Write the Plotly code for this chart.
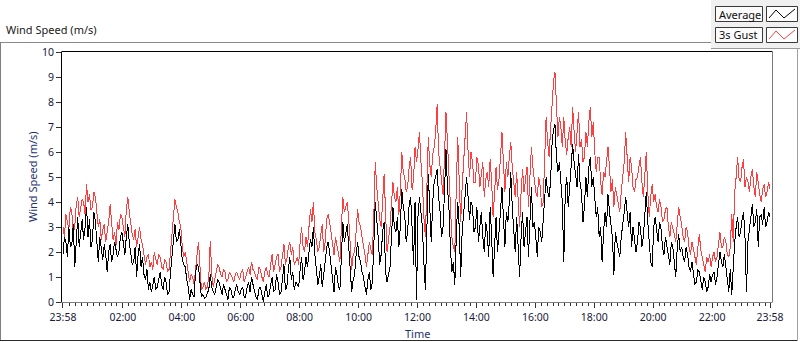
import plotly.graph_objects as go

# ---------------- data ----------------
# sample times in minutes after 23:58 (3-minute spacing over 24 h)
minutes = list(range(0, 1441, 3))

gust = [
    3.0, 2.6, 3.5, 3.2, 2.9, 3.8, 3.6, 2.8, 3.0, 3.9, 4.2, 3.4, 3.7, 4.1, 4.0, 3.5, 4.7, 4.0, 4.3, 3.7,
    3.8, 4.4, 4.2, 3.4, 3.0, 3.3, 2.5, 2.9, 3.1, 2.4, 2.8, 3.2, 3.9, 3.0, 2.5, 2.8, 2.3, 3.2, 2.9, 3.5,
    3.4, 3.0, 2.6, 3.7, 4.2, 3.6, 3.1, 2.7, 2.5, 2.9, 2.2, 2.6, 3.0, 2.5, 2.3, 1.9, 1.5, 1.8, 1.9, 1.4,
    1.6, 1.3, 2.0, 1.7, 1.5, 1.9, 1.8, 1.4, 1.3, 1.7, 1.6, 1.2, 1.3, 2.0, 2.8, 3.6, 4.1, 3.8, 3.6, 3.2,
    3.0, 2.2, 1.8, 2.0, 1.6, 1.2, 0.8, 1.1, 1.0, 0.7, 1.4, 1.9, 2.4, 1.2, 0.5, 0.6, 0.8, 0.5, 0.6, 1.0,
    2.45, 1.1, 0.6, 0.9, 1.2, 1.5, 1.4, 1.1, 1.0, 1.3, 1.2, 0.8, 0.9, 1.2, 1.1, 0.9, 0.8, 1.1, 1.2, 1.0,
    0.9, 1.2, 1.3, 0.8, 1.0, 1.3, 1.4, 1.1, 1.6, 1.3, 1.2, 1.0, 0.9, 1.4, 1.3, 1.0, 0.8, 1.2, 1.4, 1.1,
    1.0, 1.5, 1.9, 1.2, 1.5, 1.8, 1.9, 1.2, 1.4, 1.8, 2.3, 1.5, 1.7, 2.2, 2.4, 1.9, 2.2, 1.5, 1.6, 1.8,
    1.5, 2.4, 3.0, 2.2, 2.0, 2.6, 2.2, 3.0, 3.7, 3.2, 4.0, 2.8, 2.5, 2.0, 2.2, 2.7, 3.1, 2.0, 2.4, 3.3,
    3.5, 3.2, 2.8, 2.3, 1.9, 2.6, 2.2, 1.8, 1.6, 3.0, 4.2, 3.6, 3.8, 4.0, 3.3, 2.2, 1.3, 1.9, 2.0, 2.8,
    3.7, 3.2, 3.0, 2.6, 2.3, 1.9, 1.4, 2.0, 2.4, 2.1, 1.9, 3.4, 5.6, 4.6, 3.9, 3.3, 3.0, 4.2, 5.1, 3.6,
    2.0, 2.5, 3.0, 3.9, 4.8, 4.2, 4.0, 4.6, 3.5, 4.4, 6.0, 5.2, 5.0, 4.4, 4.6, 5.4, 5.8, 4.5, 4.9, 6.2,
    5.6, 6.1, 6.8, 5.6, 4.8, 3.4, 2.6, 4.5, 6.6, 5.5, 5.0, 5.9, 6.2, 6.8, 7.9, 6.0, 5.4, 4.8, 4.3, 5.8,
    7.6, 6.4, 5.2, 3.8, 2.6, 2.2, 2.0, 4.6, 6.6, 4.8, 3.2, 4.6, 5.8, 6.6, 7.6, 6.0, 5.0, 6.0, 5.6, 4.8,
    4.8, 5.8, 5.5, 4.6, 5.0, 5.6, 4.2, 4.9, 5.2, 4.6, 5.7, 4.8, 3.4, 4.4, 5.4, 4.5, 4.9, 5.8, 6.8, 5.6,
    4.4, 5.6, 5.0, 5.8, 6.4, 5.4, 4.8, 4.2, 5.2, 4.0, 3.0, 4.4, 5.3, 4.4, 4.8, 5.4, 3.8, 5.0, 6.2, 5.4,
    4.8, 4.4, 4.2, 5.0, 4.6, 3.8, 4.0, 5.6, 7.4, 6.4, 5.8, 6.9, 8.0, 8.8, 9.2, 7.8, 6.6, 7.4, 7.0, 6.2,
    7.4, 6.4, 5.9, 6.6, 7.0, 6.2, 7.8, 6.8, 6.0, 6.8, 7.6, 6.2, 6.5, 5.6, 5.8, 6.8, 6.2, 7.2, 7.8, 6.6,
    7.2, 6.0, 5.2, 5.8, 5.8, 4.8, 4.3, 5.2, 5.0, 5.6, 6.2, 5.4, 4.4, 4.9, 3.8, 4.6, 4.2, 3.8, 3.6, 4.4,
    5.0, 5.6, 6.8, 5.6, 4.8, 5.8, 5.4, 4.6, 4.4, 4.9, 5.0, 5.4, 5.8, 4.8, 4.2, 5.1, 6.0, 4.4, 3.4, 4.2,
    4.7, 4.0, 4.3, 3.8, 3.6, 4.1, 3.8, 3.2, 3.3, 3.7, 3.8, 3.0, 2.6, 3.2, 3.0, 2.7, 2.4, 3.2, 3.8, 3.4,
    3.1, 2.6, 2.4, 3.0, 2.8, 2.2, 1.9, 2.4, 2.1, 1.7, 1.5, 2.2, 2.7, 2.1, 1.8, 1.5, 1.2, 1.8, 1.6, 1.9,
    1.4, 1.8, 2.0, 1.6, 1.8, 2.3, 2.8, 2.2, 2.2, 2.6, 2.4, 1.9, 1.8, 2.2, 3.5, 2.4, 4.4, 5.0, 5.8, 4.9,
    4.8, 5.4, 5.7, 4.6, 5.0, 4.8, 4.4, 5.0, 5.3, 4.6, 4.2, 5.2, 4.6, 4.3, 4.0, 4.5, 4.7, 4.2, 4.4, 4.8,
    4.5,
]

average = [
    1.9, 2.6, 2.4, 1.8, 3.0, 2.2, 2.3, 3.1, 1.4, 2.7, 3.4, 2.2, 2.9, 3.3, 2.5, 3.0, 3.8, 2.6, 3.3, 2.2,
    2.5, 3.6, 3.2, 2.4, 1.6, 2.6, 2.1, 1.7, 2.3, 1.9, 1.2, 2.0, 2.3, 1.6, 1.9, 2.4, 2.1, 1.8, 2.0, 2.6,
    2.8, 2.2, 1.9, 2.6, 3.1, 2.4, 2.0, 1.5, 1.6, 2.2, 1.0, 1.9, 2.3, 1.4, 1.8, 1.1, 0.9, 1.3, 0.5, 0.8,
    0.4, 0.7, 1.0, 0.5, 0.6, 0.9, 1.2, 0.7, 0.5, 1.0, 0.8, 0.3, 0.4, 1.2, 1.8, 2.6, 3.1, 2.4, 2.5, 2.9,
    2.3, 1.7, 1.5, 1.4, 0.9, 0.6, 0.1, 0.5, 0.3, 0.2, 1.2, 1.5, 1.4, 0.6, 0.2, 0.3, 0.15, 0.2, 0.4, 0.5,
    1.1, 0.6, 0.4, 0.3, 0.6, 0.9, 0.8, 0.5, 0.3, 0.7, 0.5, 0.3, 0.1, 0.6, 0.5, 0.2, 0.2, 0.5, 0.7, 0.4,
    0.3, 0.5, 0.6, 0.2, 0.2, 0.6, 0.8, 0.4, 1.0, 0.7, 0.4, 0.2, 0.1, 0.5, 0.6, 0.3, 0.0, 0.4, 0.7, 0.2,
    0.3, 0.7, 1.0, 0.4, 0.5, 1.1, 0.8, 0.3, 0.4, 0.9, 1.5, 0.5, 0.6, 1.3, 1.8, 0.9, 1.2, 0.5, 0.8, 0.7,
    0.6, 1.3, 1.8, 0.9, 1.2, 1.8, 1.4, 2.0, 2.5, 2.2, 3.0, 1.9, 1.3, 0.7, 1.0, 1.5, 0.6, 1.0, 1.6, 2.2,
    2.4, 2.0, 1.5, 0.9, 0.4, 1.4, 1.1, 0.6, 0.5, 1.8, 3.2, 2.4, 2.8, 3.1, 2.2, 1.0, 0.4, 0.9, 1.1, 1.9,
    2.4, 1.8, 1.6, 1.2, 1.0, 0.6, 0.3, 0.9, 1.2, 0.5, 0.8, 2.2, 4.0, 3.3, 2.6, 1.5, 1.9, 2.8, 3.2, 1.2,
    0.8, 1.1, 1.4, 2.6, 3.8, 3.0, 2.8, 3.4, 2.2, 3.0, 4.5, 3.8, 3.5, 2.4, 2.8, 3.9, 4.2, 3.0, 1.5, 4.0,
    0.1, 3.4, 4.2, 3.6, 3.0, 1.6, 0.5, 2.8, 5.1, 3.8, 2.4, 4.0, 4.8, 5.0, 5.3, 4.2, 3.6, 2.6, 3.0, 4.4,
    6.1, 4.6, 3.8, 2.2, 1.2, 1.6, 0.7, 2.6, 4.0, 3.0, 1.0, 2.8, 3.6, 4.4, 5.0, 4.2, 3.3, 4.0, 3.8, 2.8,
    3.0, 3.8, 2.4, 3.0, 3.6, 2.6, 2.0, 3.2, 2.8, 1.8, 3.8, 2.6, 1.0, 2.2, 3.4, 2.0, 2.7, 3.6, 4.6, 3.2,
    2.2, 3.6, 3.2, 4.0, 5.2, 3.8, 2.6, 2.0, 3.4, 2.2, 1.0, 2.6, 3.6, 2.2, 2.8, 3.4, 1.8, 3.2, 4.6, 3.0,
    3.2, 2.6, 1.8, 3.0, 2.8, 2.4, 3.3, 4.2, 5.0, 4.4, 4.2, 4.8, 6.3, 6.9, 7.1, 5.8, 5.2, 5.6, 4.9, 4.0,
    1.6, 4.4, 5.0, 3.8, 4.6, 5.4, 6.3, 5.6, 5.0, 4.6, 5.9, 4.8, 4.4, 3.2, 3.8, 5.0, 4.2, 5.4, 5.8, 4.6,
    5.0, 4.2, 3.4, 3.8, 2.6, 3.0, 1.6, 2.8, 3.6, 3.0, 4.3, 3.6, 3.2, 2.6, 1.1, 2.8, 2.4, 2.0, 1.8, 2.6,
    3.0, 3.6, 4.2, 3.4, 3.0, 3.6, 2.2, 3.0, 2.6, 2.0, 2.4, 3.2, 3.0, 2.2, 2.6, 3.4, 4.4, 3.2, 2.2, 1.6,
    1.4, 3.0, 3.4, 2.8, 2.4, 3.2, 2.9, 2.2, 1.9, 2.6, 2.2, 1.8, 1.5, 2.4, 2.2, 1.6, 1.0, 2.2, 2.7, 2.0,
    2.2, 1.8, 1.6, 2.2, 1.9, 1.4, 1.2, 1.6, 1.0, 0.7, 0.8, 1.3, 1.2, 0.8, 0.5, 1.0, 0.8, 0.4, 0.6, 1.1,
    0.8, 1.1, 1.2, 0.7, 1.0, 1.5, 2.0, 1.6, 1.4, 1.9, 1.5, 0.9, 0.4, 1.3, 0.3, 1.5, 2.4, 3.0, 3.4, 2.6,
    2.8, 3.3, 3.6, 2.6, 0.4, 2.4, 3.0, 3.6, 3.9, 3.0, 3.2, 3.7, 2.2, 3.4, 3.5, 3.1, 3.8, 3.0, 3.2, 3.6,
    3.4,
]

tick_minutes = [0, 122, 242, 362, 482, 602, 722, 842, 962, 1082, 1202, 1322, 1440]
tick_labels = ["23:58", "02:00", "04:00", "06:00", "08:00", "10:00", "12:00",
               "14:00", "16:00", "18:00", "20:00", "22:00", "23:58"]
minor_minutes = [2 + 12 * k for k in range(1, 120) if k % 10 != 0]

# ---------------- layout helpers (pixel -> paper) ----------------
W, H = 800, 342
L, R, T, B = 62, 28, 52, 40
PW = W - L - R
PH = H - T - B


def px(x):
    return (x - L) / PW


def py(y):
    return (H - B - y) / PH


FONT = "Noto Sans"
TICK_COLOR = "#18183a"
TITLE_COLOR = "#1f3270"
RED = "#ff3f3f"

fig = go.Figure()
fig.add_trace(go.Scatter(x=minutes, y=gust, mode="lines", name="3s Gust",
                         line=dict(color=RED, width=1), hoverinfo="skip"))
fig.add_trace(go.Scatter(x=minutes, y=average, mode="lines", name="Average",
                         line=dict(color="#000000", width=1), hoverinfo="skip"))

shapes = []


def hline(y, x0, x1, color):
    shapes.append(dict(type="line", xref="paper", yref="paper",
                       x0=px(x0), x1=px(x1), y0=py(y), y1=py(y),
                       line=dict(color=color, width=1)))


def vline(x, y0, y1, color):
    shapes.append(dict(type="line", xref="paper", yref="paper",
                       x0=px(x), x1=px(x), y0=py(y0), y1=py(y1),
                       line=dict(color=color, width=1)))


def rect(x0, y0, x1, y1, fill, color, width=1):
    shapes.append(dict(type="rect", xref="paper", yref="paper",
                       x0=px(x0), x1=px(x1), y0=py(y1), y1=py(y0),
                       fillcolor=fill, line=dict(color=color, width=width), layer="above"))


# outer frame
hline(42.5, 0, 712, "#8a8a8a")
vline(0.5, 42.5, 341, "#808080")
hline(340.5, 0, 798, "#2a2a2a")
vline(797.5, 48, 341, "#a0a0a0")

# plot border (top & right; left & bottom via axes)
hline(51.5, 61.5, 772.5, "#000000")
vline(772.5, 51.5, 302.5, "#7a7a7a")

# legend panel
rect(711, 0, 800, 48, "#f0f0f0", "rgba(0,0,0,0)", 0)
hline(48.5, 711, 800, "#9a9a9a")
rect(715.5, 6.5, 762.5, 21.5, "#fbfbfb", "#3a3a3a")
rect(766.5, 6.5, 797.5, 21.5, "#ffffff", "#3a3a3a")
rect(715.5, 27.5, 762.5, 42.5, "#fbfbfb", "#3a3a3a")
rect(766.5, 27.5, 797.5, 42.5, "#ffffff", "#3a3a3a")


def zig(y_top, y_bot, color):
    pts = [(769, y_bot), (776, y_top), (784, y_bot), (795, y_top - 1)]
    path = "M " + " L ".join(f"{px(a)},{py(b)}" for a, b in pts)
    shapes.append(dict(type="path", xref="paper", yref="paper", path=path,
                       line=dict(color=color, width=1), layer="above"))


zig(10, 18, "#000000")
zig(31, 39, RED)

annotations = [
    dict(text="Wind Speed (m/s)", x=px(4), y=py(30), xref="paper", yref="paper",
         xanchor="left", yanchor="middle", showarrow=False,
         font=dict(family=FONT, size=11, color="#202020")),
    dict(text="Average", x=px(717), y=py(14), xref="paper", yref="paper",
         xanchor="left", yanchor="middle", showarrow=False,
         font=dict(family=FONT, size=11, color="#101010")),
    dict(text="3s Gust", x=px(717), y=py(35), xref="paper", yref="paper",
         xanchor="left", yanchor="middle", showarrow=False,
         font=dict(family=FONT, size=11, color="#101010")),
    dict(text="Wind Speed (m/s)", x=px(32), y=py(177), xref="paper", yref="paper",
         xanchor="center", yanchor="middle", textangle=-90, showarrow=False,
         font=dict(family=FONT, size=11, color=TITLE_COLOR)),
    dict(text="Time", x=px(417), y=py(333), xref="paper", yref="paper",
         xanchor="center", yanchor="middle", showarrow=False,
         font=dict(family=FONT, size=11, color=TITLE_COLOR)),
]

fig.update_layout(
    width=W, height=H,
    margin=dict(l=L, r=R, t=T, b=B, pad=0),
    paper_bgcolor="#ffffff", plot_bgcolor="#ffffff",
    showlegend=False,
    shapes=shapes,
    annotations=annotations,
    font=dict(family=FONT, size=10.5, color=TICK_COLOR),
    xaxis=dict(
        range=[-2, 1444], tickmode="array", tickvals=tick_minutes, ticktext=tick_labels,
        ticks="outside", ticklen=5, tickwidth=1, tickcolor="#303030",
        showgrid=False, zeroline=False, showline=True, linecolor="#808080", linewidth=1,
        tickfont=dict(family=FONT, size=10.5, color=TICK_COLOR),
        minor=dict(tickmode="array", tickvals=minor_minutes, ticks="outside",
                   ticklen=3, tickwidth=1, tickcolor="#303030", showgrid=False),
    ),
    yaxis=dict(
        range=[0, 10], dtick=1, tick0=0,
        ticks="outside", ticklen=5, tickwidth=1, tickcolor="#303030",
        showgrid=False, zeroline=False, showline=True, linecolor="#000000", linewidth=1,
        tickfont=dict(family=FONT, size=10.5, color=TICK_COLOR),
    ),
)

post = (
    "document.body.style.margin='0';document.body.style.overflow='hidden';"
    "document.querySelectorAll('.scatterlayer path.js-line').forEach(function(p){"
    "p.style.shapeRendering='crispEdges';});"
)
fig.write_html("out.html", config={"displayModeBar": False}, post_script=post)
